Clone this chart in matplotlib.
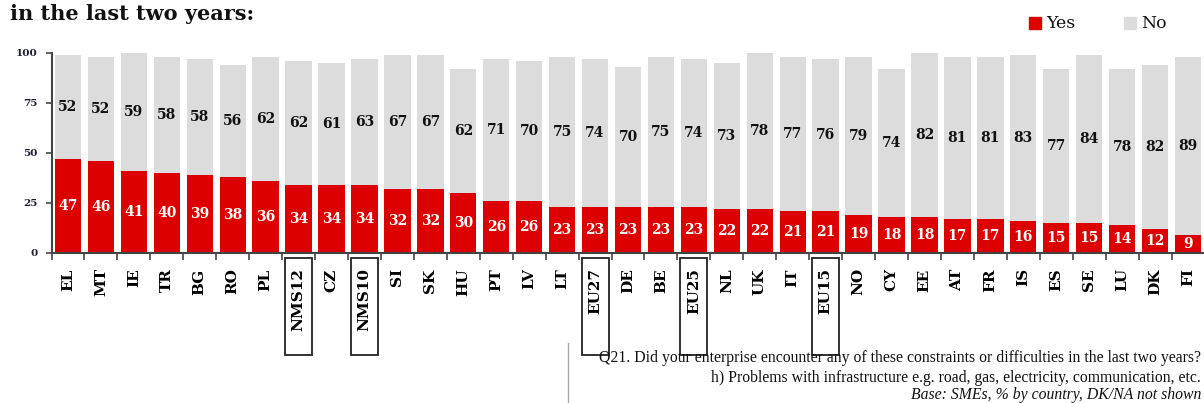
import matplotlib
matplotlib.use("Agg")
import matplotlib.pyplot as plt
from matplotlib.patches import Rectangle
from matplotlib.lines import Line2D
from matplotlib.transforms import blended_transform_factory
import numpy as np

countries = ["EL", "MT", "IE", "TR", "BG", "RO", "PL", "NMS12", "CZ", "NMS10",
             "SI", "SK", "HU", "PT", "LV", "LT", "EU27", "DE", "BE", "EU25",
             "NL", "UK", "IT", "EU15", "NO", "CY", "EE", "AT", "FR", "IS",
             "ES", "SE", "LU", "DK", "FI"]
yes = [47, 46, 41, 40, 39, 38, 36, 34, 34, 34, 32, 32, 30, 26, 26, 23, 23, 23,
       23, 23, 22, 22, 21, 21, 19, 18, 18, 17, 17, 16, 15, 15, 14, 12, 9]
no = [52, 52, 59, 58, 58, 56, 62, 62, 61, 63, 67, 67, 62, 71, 70, 75, 74, 70,
      75, 74, 73, 78, 77, 76, 79, 74, 82, 81, 81, 83, 77, 84, 78, 82, 89]
aggregates = ["NMS12", "NMS10", "EU27", "EU25", "EU15"]

RED = "#dc0000"
GREY = "#dcdcdc"
W, H = 1204, 403

plt.rcParams["font.family"] = ["DejaVu Serif"]

fig = plt.figure(figsize=(W / 100, H / 100), dpi=100)
ax = fig.add_axes([51.5 / W, 1 - 253 / H, 1153 / W, 200 / H])

x = np.arange(len(countries))
ax.bar(x, yes, width=0.8, color=RED, zorder=2)
ax.bar(x, no, width=0.8, bottom=yes, color=GREY, zorder=2)

for i, (y_, n_) in enumerate(zip(yes, no)):
    ax.text(i, y_ / 2, str(y_), ha="center", va="center", color="white",
            fontsize=10, fontweight="bold", zorder=3)
    ax.text(i, y_ + n_ / 2, str(n_), ha="center", va="center", color="#111111",
            fontsize=10, fontweight="bold", zorder=3)

ax.set_xlim(-0.5, len(countries) - 0.5)
ax.set_ylim(0, 100)
ax.set_yticks([0, 25, 50, 75, 100])
ax.set_yticklabels(["0", "25", "50", "75", "100"], fontsize=7.5, fontweight="bold",
                   color="#1c1c30")
ax.tick_params(axis="y", length=4, width=1.2, color="#444444", pad=6)

ax.set_xticks(x)
ax.set_xticklabels(countries, rotation=90, fontsize=11, fontweight="bold",
                   va="top", ha="center")
ax.tick_params(axis="x", which="major", length=0, pad=11)
ax.set_xticks(np.arange(-0.5, len(countries)), minor=True)
ax.tick_params(axis="x", which="minor", length=5, width=1.2, color="#444444")

for side in ["top", "right"]:
    ax.spines[side].set_visible(False)
for side in ["left", "bottom"]:
    ax.spines[side].set_color("#444444")
    ax.spines[side].set_linewidth(1.5)

# boxes around the EU / NMS aggregate labels
trans = blended_transform_factory(ax.transData, fig.transFigure)
for name in aggregates:
    i = countries.index(name)
    ax.add_patch(Rectangle((i - 0.41, 1 - 355 / H), 0.82, 97 / H,
                           transform=trans, fill=False, edgecolor="#222222",
                           linewidth=1.3, clip_on=False))

# title
fig.text(10 / W, 1 - 20 / H, "in the last two years:", fontsize=15,
         fontweight="bold", va="baseline", ha="left", color="#111111")

# legend
for lx, lab, col in [(1029, "Yes", RED), (1124, "No", GREY)]:
    fig.add_artist(Rectangle((lx / W, 1 - 29 / H), 12 / W, 12 / H,
                             transform=fig.transFigure, color=col))
    fig.text((lx + 17) / W, 1 - 23 / H, lab, fontsize=12.5, va="center",
             ha="left", color="#111111")

# question footnote
fig.add_artist(Line2D([568 / W, 568 / W], [0, 1 - 343 / H],
                      transform=fig.transFigure, color="#aaaaaa", linewidth=1))
foot = ["Q21. Did your enterprise encounter any of these constraints or difficulties in the last two years?",
        "h) Problems with infrastructure e.g. road, gas, electricity, communication, etc.",
        "Base: SMEs, % by country, DK/NA not shown"]
fig.text(1201 / W, 1 - 358 / H, foot[0], fontsize=11.3, ha="right", va="center",
         family="Liberation Serif", color="#111111")
fig.text(1201 / W, 1 - 378 / H, foot[1], fontsize=11.3, ha="right", va="center",
         family="Liberation Serif", color="#111111")
fig.text(1201 / W, 1 - 395 / H, foot[2], fontsize=11.3, ha="right", va="center",
         family="Liberation Serif", style="italic", color="#111111")

fig.savefig("out.png", dpi=100)
